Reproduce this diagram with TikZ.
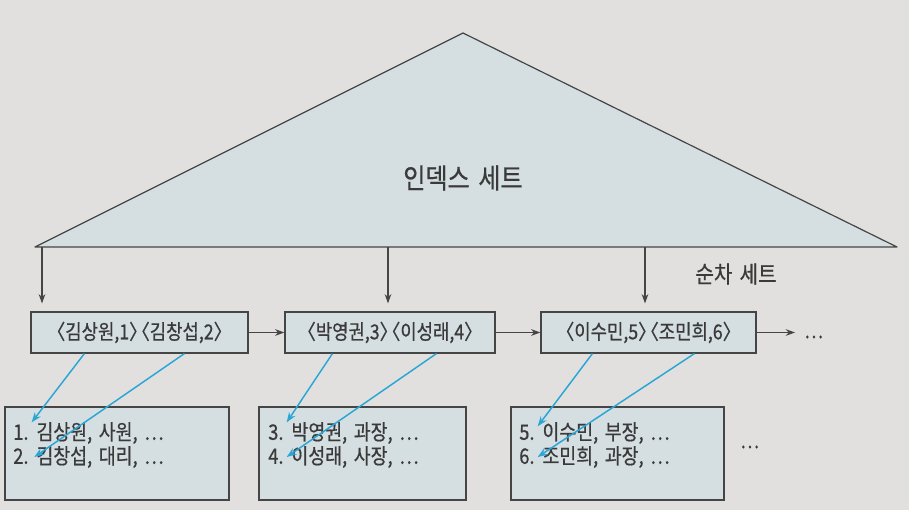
\documentclass[tikz,border=0pt]{standalone}
\usepackage{fontspec}
\setmainfont{Noto Sans CJK KR}[FakeStretch=0.86,FakeBold=0.6,WordSpace=1.6]
\usetikzlibrary{arrows.meta,calc}
\definecolor{bg}{HTML}{E1E0DE}
\definecolor{boxfill}{HTML}{D5DEE1}
\definecolor{edge}{HTML}{454545}
\definecolor{ink}{HTML}{3A3A3A}
\definecolor{link}{HTML}{2AA6D6}
\newcommand\LA{\makebox[0.5em][r]{〈}}
\newcommand\RA{\makebox[0.5em][l]{〉}}
\begin{document}
\begin{tikzpicture}[x=0.75pt,y=-0.75pt,
  ubox/.style={draw=edge,fill=boxfill,line width=0.9pt,minimum height=30.75pt,inner sep=0pt,text=ink,font=\fontsize{15.5}{17}\selectfont},
  lbox/.style={draw=edge,fill=boxfill,line width=0.9pt,minimum height=69.75pt,inner sep=0pt},
  ltext/.style={anchor=west,inner sep=0pt,text=ink,font=\fontsize{16}{18}\selectfont},
  blk/.style={draw=edge,line width=0.85pt,-{Stealth[length=7pt,width=5pt]}},
  blu/.style={draw=link,line width=1.1pt,-{Stealth[length=7.5pt,width=5.5pt]}},
  lbl/.style={inner sep=0pt,text=ink,font=\fontsize{15.5}{17}\selectfont}]
\fill[bg] (0,0) rectangle (909,510);
\useasboundingbox (0,0) rectangle (909,510);
% index set triangle
\coordinate (apex) at (463,33);
\coordinate (bl) at (35,247);
\coordinate (br) at (897,247);
\filldraw[fill=boxfill,draw=edge,line width=0.9pt,line join=round] (bl) -- (apex) -- (br) -- cycle;
\node[lbl,font=\fontsize{21}{24}\selectfont] (idx) at (463,178) {인덱스 세트};
\node[lbl,font=\fontsize{17.5}{20}\selectfont] (seq) at (736,274) {순차 세트};
% sequence set boxes
\node[ubox,minimum width=162.75pt] (u1) at (139.5,332.5) {\LA 김상원,1\RA\LA 김창섭,2\RA};
\node[ubox,minimum width=157.5pt] (u2) at (390,332.5) {\LA 박영권,3\RA\LA 이성래,4\RA};
\node[ubox,minimum width=161.25pt] (u3) at (648.5,332.5) {\LA 이수민,5\RA\LA 조민희,6\RA};
\coordinate (t1) at (42,247);
\coordinate (t2) at (388,247);
\coordinate (t3) at (645,247);
\draw[blk] (t1) -- ($(t1 |- u1.north)+(0,-8)$);
\draw[blk] (t2) -- ($(t2 |- u2.north)+(0,-8)$);
\draw[blk] (t3) -- ($(t3 |- u3.north)+(0,-8)$);
\draw[blk] (u1.east) -- (u2.west);
\draw[blk] (u2.east) -- (u3.west);
\coordinate (more) at (795,336);
\draw[blk] (u3.east) -- (u3.east -| more);
\node[lbl,anchor=west] (dots1) at (804,337) {…};
% data blocks
\node[lbox,minimum width=168pt] (d1) at (117,453.5) {};
\node[lbox,minimum width=155.25pt] (d2) at (362.5,453.5) {};
\node[lbox,minimum width=159.75pt] (d3) at (617.5,453.5) {};
\node[lbl,anchor=west] (dots2) at (740,447) {…};
\node[ltext] (r1) at (13,433) {1. 김상원, 사원, …};
\node[ltext] (r2) at (13,457) {2. 김창섭, 대리, …};
\node[ltext] (r3) at (268,433) {3. 박영권, 과장, …};
\node[ltext] (r4) at (268,457) {4. 이성래, 사장, …};
\node[ltext] (r5) at (519,433) {5. 이수민, 부장, …};
\node[ltext] (r6) at (519,457) {6. 조민희, 과장, …};
% pointers
\draw[blu] ([xshift=40.5pt]u1.south west) -- ([xshift=14pt,yshift=8pt]r1.west);
\draw[blu] ([xshift=115.5pt]u1.south west) -- ([xshift=16pt,yshift=0pt]r2.west);
\draw[blu] ([xshift=36pt]u2.south west) -- ([xshift=14pt,yshift=8pt]r3.west);
\draw[blu] ([xshift=114pt]u2.south west) -- ([xshift=14pt,yshift=0pt]r4.west);
\draw[blu] ([xshift=39pt]u3.south west) -- ([xshift=14pt,yshift=5pt]r5.west);
\draw[blu] ([xshift=115.5pt]u3.south west) -- ([xshift=14pt,yshift=0pt]r6.west);
\end{tikzpicture}
\end{document}
